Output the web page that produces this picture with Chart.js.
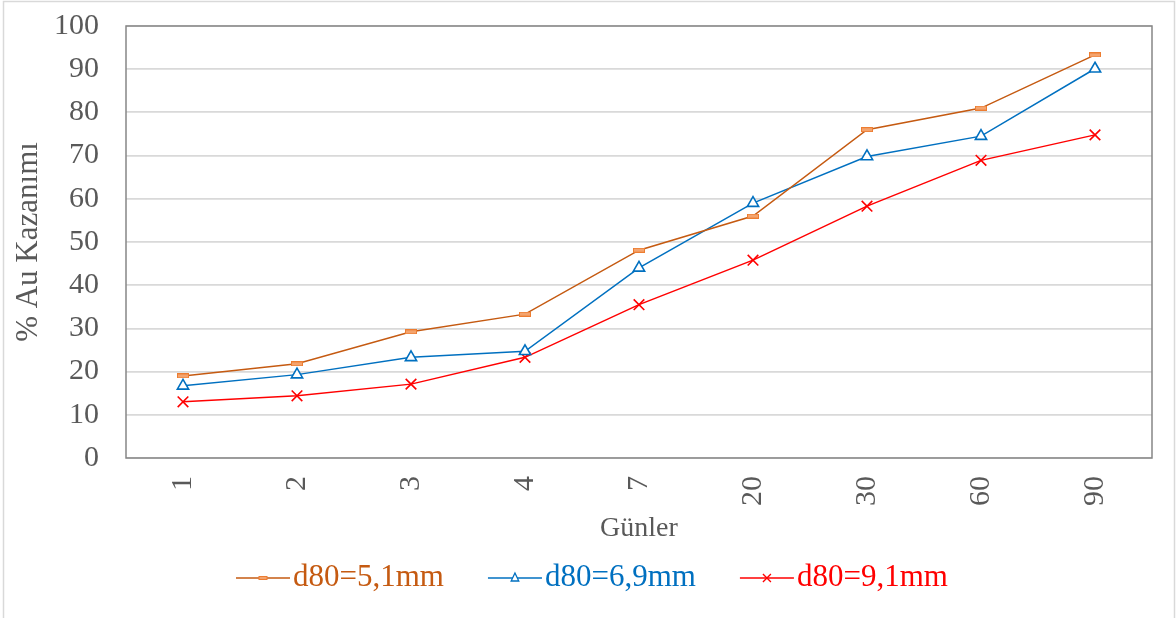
<!DOCTYPE html>
<html>
<head>
<meta charset="utf-8">
<script src="https://cdn.jsdelivr.net/npm/chart.js@4/dist/chart.umd.min.js"></script>
<style>
  html, body { margin: 0; padding: 0; background: #ffffff; }
  #wrap { width: 1176px; height: 618px; position: relative; }
</style>
</head>
<body>
<div id="wrap"><canvas id="c" width="1176" height="618"></canvas></div>
<script>
// ---- Data ----
const categories = ['1', '2', '3', '4', '7', '20', '30', '60', '90'];
const seriesNames = ['d80=5,1mm', 'd80=6,9mm', 'd80=9,1mm'];
const series51 = [19.0, 21.8, 29.2, 33.3, 48.1, 56.0, 76.0, 81.0, 93.3];
const series69 = [16.7, 19.3, 23.3, 24.7, 44.0, 59.0, 69.8, 74.5, 90.1];
const series91 = [13.0, 14.4, 17.1, 23.3, 35.5, 45.8, 58.3, 68.9, 74.8];
const yTicks = [0, 10, 20, 30, 40, 50, 60, 70, 80, 90, 100];

const FONT = '"Liberation Serif", "Times New Roman", serif';
const ORANGE_LINE = '#C55A11';
const ORANGE_MARK = '#ED7D31';
const BLUE = '#0070C0';
const RED = '#FF0000';
const TEXT_GRAY = '#595959';

// orange dash marker as an image
function makeDash(w, h) {
  const cv = document.createElement('canvas');
  cv.width = w; cv.height = h;
  const g = cv.getContext('2d');
  g.fillStyle = ORANGE_MARK;
  g.fillRect(0, 0, w, h);
  g.fillStyle = '#F4A46E';
  g.fillRect(1, 1, w - 2, h - 2);
  return cv;
}
const dashImg = makeDash(12, 5);

const framePlugin = {
  id: 'frame',
  beforeDraw(chart) {
    const ctx = chart.ctx;
    ctx.save();
    ctx.fillStyle = '#ffffff';
    ctx.fillRect(0, 0, chart.width, chart.height);
    ctx.strokeStyle = '#d9d9d9';
    ctx.lineWidth = 1.5;
    ctx.strokeRect(3.5, 1.5, chart.width - 5, chart.height + 20);
    ctx.restore();
  },
  beforeDatasetsDraw(chart) {
    const a = chart.chartArea;
    const ctx = chart.ctx;
    ctx.save();
    ctx.strokeStyle = '#868686';
    ctx.lineWidth = 1.5;
    ctx.strokeRect(a.left, a.top, a.right - a.left, a.bottom - a.top);
    ctx.restore();
  }
};

const legendColors = [ORANGE_LINE, BLUE, RED];
const legendPlugin = {
  id: 'customLegend',
  afterDraw(chart) {
    const ctx = chart.ctx;
    ctx.save();
    ctx.font = '31px ' + FONT;
    ctx.textBaseline = 'middle';
    ctx.textAlign = 'left';
    let x = 236;
    const y = 578;
    chart.data.datasets.forEach((ds, i) => {
      ctx.strokeStyle = ds.borderColor;
      ctx.lineWidth = 1.5;
      ctx.beginPath();
      ctx.moveTo(x, y);
      ctx.lineTo(x + 54, y);
      ctx.stroke();
      const cx = x + 27;
      if (i === 0) {
        ctx.fillStyle = ORANGE_MARK;
        ctx.fillRect(cx - 4.5, y - 2, 9, 4);
        ctx.fillStyle = '#F4A46E';
        ctx.fillRect(cx - 3.5, y - 1, 7, 2);
      } else if (i === 1) {
        ctx.fillStyle = '#ffffff';
        ctx.strokeStyle = BLUE;
        ctx.lineWidth = 1.3;
        ctx.beginPath();
        ctx.moveTo(cx, y - 5);
        ctx.lineTo(cx + 3.8, y + 3);
        ctx.lineTo(cx - 3.8, y + 3);
        ctx.closePath();
        ctx.fill();
        ctx.stroke();
      } else {
        ctx.strokeStyle = RED;
        ctx.lineWidth = 1.3;
        ctx.beginPath();
        ctx.moveTo(cx - 4, y - 4); ctx.lineTo(cx + 4, y + 4);
        ctx.moveTo(cx + 4, y - 4); ctx.lineTo(cx - 4, y + 4);
        ctx.stroke();
      }
      ctx.fillStyle = legendColors[i];
      ctx.fillText(ds.label, x + 57, y);
      x += 57 + ctx.measureText(ds.label).width + 44;
    });
    ctx.restore();
  }
};

new Chart(document.getElementById('c'), {
  type: 'line',
  data: {
    labels: categories,
    datasets: [
      {
        label: seriesNames[0],
        data: series51,
        borderColor: ORANGE_LINE,
        borderWidth: 1.5,
        pointStyle: dashImg,
        pointRadius: 6,
        tension: 0,
        fill: false
      },
      {
        label: seriesNames[1],
        data: series69,
        borderColor: BLUE,
        backgroundColor: '#ffffff',
        borderWidth: 1.5,
        pointStyle: 'triangle',
        pointRadius: 6.5,
        pointBorderWidth: 1.6,
        pointBackgroundColor: '#ffffff',
        pointBorderColor: BLUE,
        tension: 0,
        fill: false
      },
      {
        label: seriesNames[2],
        data: series91,
        borderColor: RED,
        borderWidth: 1.5,
        pointStyle: 'crossRot',
        pointRadius: 7.5,
        pointBorderWidth: 1.6,
        pointBorderColor: RED,
        tension: 0,
        fill: false
      }
    ]
  },
  options: {
    responsive: false,
    animation: false,
    devicePixelRatio: 1,
    layout: { padding: { left: 0, right: 24, top: 26, bottom: 0 } },
    plugins: {
      legend: { display: false },
      tooltip: { enabled: false },
      title: { display: false }
    },
    scales: {
      x: {
        type: 'category',
        offset: true,
        grid: { display: false, drawTicks: false },
        border: { display: false },
        ticks: {
          autoSkip: false,
          minRotation: 90,
          maxRotation: 90,
          padding: 18,
          color: TEXT_GRAY,
          font: { family: FONT, size: 30 }
        },
        title: {
          display: true,
          text: 'Günler',
          color: TEXT_GRAY,
          font: { family: FONT, size: 28 },
          padding: { top: 0, bottom: 73 }
        },
        afterFit(scale) {
          scale.height = 160;
          scale.paddingTop = 0; scale.paddingBottom = 0;
        }
      },
      y: {
        min: 0,
        max: 100,
        afterBuildTicks(scale) { scale.ticks = yTicks.map(v => ({ value: v })); },
        grid: { color: '#d9d9d9', lineWidth: 1.8, drawTicks: false },
        border: { display: false },
        ticks: {
          padding: 27,
          color: TEXT_GRAY,
          font: { family: FONT, size: 30 }
        },
        title: {
          display: true,
          text: '% Au Kazanımı',
          color: TEXT_GRAY,
          font: { family: FONT, size: 31 },
          padding: { top: 10, bottom: 0 }
        },
        afterFit(scale) {
          scale.width = 126;
          scale.paddingTop = 0; scale.paddingBottom = 0;
        }
      }
    }
  },
  plugins: [framePlugin, legendPlugin]
});
</script>
</body>
</html>
